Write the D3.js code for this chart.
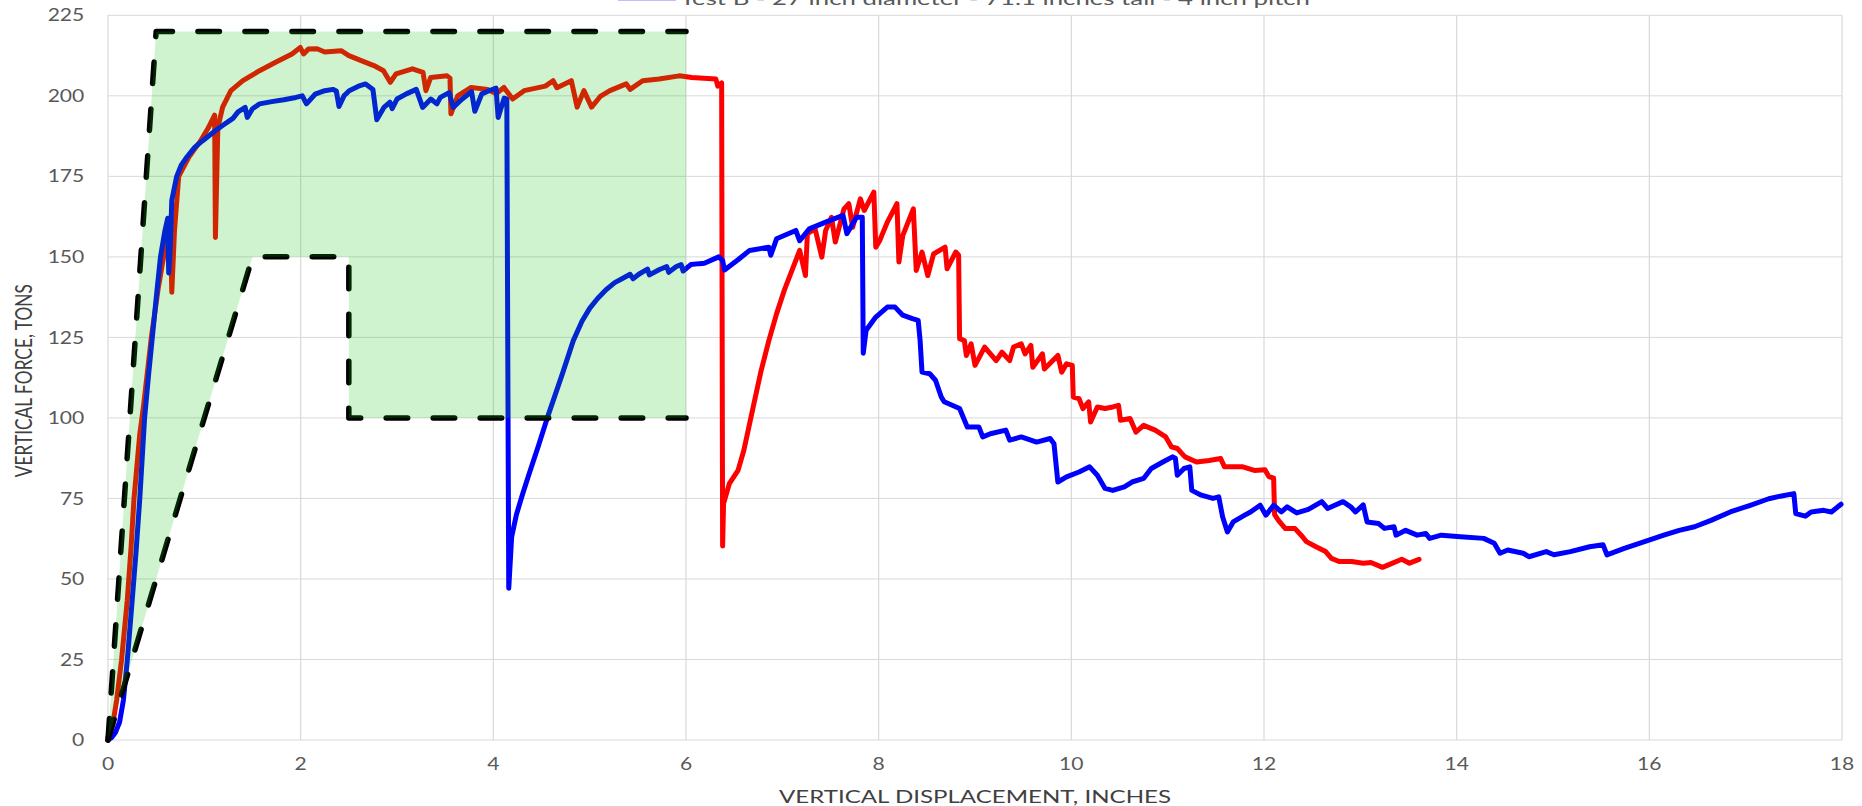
<!DOCTYPE html>
<html>
<head>
<meta charset="utf-8">
<script src="https://cdn.jsdelivr.net/npm/d3@7"></script>
<style>
  html, body { margin: 0; padding: 0; background: #fff; overflow: hidden; }
  svg { display: block; }
  text { font-family: Lato, "Open Sans", "Noto Sans", sans-serif; }
</style>
</head>
<body>
<svg id="chart" width="1862" height="806"></svg>
<script>
// Tick values
const xTicks = [0, 2, 4, 6, 8, 10, 12, 14, 16, 18];
const yTicks = [0, 25, 50, 75, 100, 125, 150, 175, 200, 225];

// Test A (red): displacement (in) and force (tons)
const testA = [
  [0,1],[0.05,5],[0.09,12.4],[0.14,24.7],[0.2,43.4],[0.24,60],[0.27,75],[0.33,95],[0.37,104],
  [0.45,125],[0.52,140],[0.577,150],[0.62,157],[0.65,160],[0.662,139],[0.69,158],
  [0.734,175],[0.84,181],[0.96,186],[1.04,190],[1.107,194],[1.115,156],[1.14,190],[1.19,196.5],
  [1.276,201.6],[1.4,204.7],[1.573,207.8],[1.74,210.4],[1.91,213],[1.996,215],[2.03,213],[2.08,214.5],
  [2.17,214.6],[2.25,213.6],[2.42,214],[2.5,212.5],[2.674,210.4],[2.76,209.4],[2.86,207.8],[2.93,204.2],
  [2.99,206.8],[3.16,208.4],[3.27,207.3],[3.3,201.6],[3.35,205.7],[3.52,206.2],[3.55,205.5],[3.56,194.4],
  [3.63,200],[3.77,202.6],[3.94,202],[4.03,200.6],[4.11,202.6],[4.2,199],[4.32,201.6],[4.54,203],
  [4.62,204.7],[4.66,202.5],[4.81,204.7],[4.87,196.5],[4.94,201.6],[5.02,196.5],[5.11,199.8],[5.21,201.6],
  [5.38,203.7],[5.42,202],[5.55,204.7],[5.72,205.2],[5.93,206.2],[6.06,205.7],[6.31,205.2],[6.33,203],
  [6.37,204],[6.38,60.2],[6.39,73.4],[6.45,79.6],[6.54,83.7],[6.6,89.9],[6.66,98.2],[6.72,106.5],
  [6.78,114.7],[6.86,124],[6.94,132.3],[7.02,139.6],[7.1,145.8],[7.18,152],[7.24,144.2],[7.26,157.2],
  [7.34,158.7],[7.41,149.9],[7.45,158.2],[7.51,162.3],[7.55,154.6],[7.64,164.9],[7.69,166.5],[7.73,159.2],
  [7.81,168],[7.85,164.4],[7.95,170.1],[7.97,153],[8.01,155],[8.09,160.8],[8.19,166.5],[8.21,148.4],
  [8.25,156.6],[8.36,164.9],[8.39,145.8],[8.45,151.5],[8.51,144.2],[8.57,150.9],[8.69,153],[8.71,146.3],
  [8.8,151.5],[8.83,150.5],[8.84,124.6],[8.89,124],[8.91,119.4],[8.96,123],[9.0,116.3],[9.1,122],
  [9.16,119.9],[9.22,117.8],[9.28,120.4],[9.36,117.8],[9.4,122],[9.48,123],[9.52,119.9],[9.58,122.5],
  [9.6,115.7],[9.7,119.9],[9.72,115.2],[9.86,119.4],[9.9,114.2],[9.95,116.8],[10.01,116.3],[10.02,106.5],
  [10.08,106],[10.12,102.9],[10.18,105],[10.2,98.7],[10.27,103.4],[10.35,102.9],[10.43,103.4],[10.49,103.9],
  [10.51,99.3],[10.61,99.8],[10.67,95.6],[10.75,97.7],[10.87,96.2],[10.98,94.1],[11.04,91],[11.1,90.5],
  [11.18,87.9],[11.3,86.3],[11.43,86.8],[11.55,87.4],[11.59,84.8],[11.78,84.8],[11.9,83.7],[12.01,83.9],
  [12.05,81.8],[12.1,81.3],[12.11,70],[12.15,68.2],[12.22,65.7],[12.32,65.7],[12.4,63.1],[12.44,61.6],
  [12.54,60],[12.64,58.5],[12.7,56.4],[12.78,55.4],[12.91,55.4],[13.03,54.9],[13.11,55.1],[13.23,53.6],
  [13.31,54.6],[13.43,56.1],[13.51,54.9],[13.61,56.1]
];

// Test B (blue): displacement (in) and force (tons)
const testB = [
  [0,0],[0.04,0.8],[0.08,2.5],[0.12,5.5],[0.16,12.4],[0.2,24.7],[0.25,43],[0.29,58],[0.33,75],[0.38,100],
  [0.42,113],[0.46,125],[0.51,140],[0.545,150],[0.59,158],[0.62,162],[0.63,145],[0.645,152],[0.662,167.5],
  [0.713,175],[0.76,178.5],[0.819,181],[0.9,184],[0.98,186],[1.107,189],[1.2,191],[1.297,193],[1.35,195],
  [1.424,196.4],[1.446,193.3],[1.5,196],[1.573,197.5],[1.7,198.2],[1.826,198.8],[1.95,199.5],[2.017,200],
  [2.06,197.5],[2.15,200.5],[2.25,201.6],[2.335,202],[2.37,201.5],[2.398,196.7],[2.45,200],[2.504,201.6],
  [2.6,203],[2.674,203.7],[2.75,202],[2.79,192.6],[2.864,196.4],[2.927,198],[2.95,196],[3.0,199],
  [3.097,200.6],[3.2,202],[3.266,196.4],[3.351,199],[3.414,197.5],[3.45,199.5],[3.541,201],[3.584,196.4],
  [3.668,198.8],[3.774,201.3],[3.808,195.2],[3.88,200.6],[3.95,201.5],[4.028,202.4],[4.05,193.3],
  [4.113,199.3],[4.14,199],[4.15,120],[4.16,47.1],[4.19,63],[4.24,70],[4.3,76],[4.37,82.5],[4.47,91.5],
  [4.56,100],[4.64,107],[4.72,114],[4.83,124],[4.92,130],[5.0,134],[5.08,137],[5.17,139.8],[5.26,142],
  [5.34,143.3],[5.42,144.6],[5.45,143.2],[5.51,144.6],[5.6,146.2],[5.62,144.4],[5.72,146],[5.8,147],
  [5.82,145.2],[5.9,147],[5.95,147.6],[5.97,145.6],[6.05,147.6],[6.14,147.9],[6.19,148],[6.34,150],
  [6.38,148.9],[6.4,145.9],[6.54,149.1],[6.66,152],
  [6.86,153],[6.88,150.5],[6.94,155.6],[7.14,158.2],[7.18,155],[7.28,158.7],[7.45,160.8],[7.63,162.9],
  [7.67,157.2],[7.77,162.3],[7.83,162.3],[7.84,120.1],[7.87,127.2],[7.97,131.3],[8.09,134.4],[8.17,134.4],
  [8.25,131.9],[8.35,130.8],[8.41,130.3],[8.43,124.1],[8.45,114.2],[8.53,113.7],[8.59,111.7],[8.65,106.5],
  [8.68,105],[8.84,102.9],[8.92,97.2],[9.04,97.2],[9.08,94.1],[9.16,95.1],[9.32,96.2],[9.36,93.1],
  [9.48,94.1],[9.64,92.5],[9.78,93.6],[9.82,92],[9.86,80.1],[9.95,81.7],[10.08,83.2],[10.19,84.8],
  [10.27,82.2],[10.35,78.1],[10.43,77.5],[10.55,78.6],[10.63,80.1],[10.75,81.2],[10.83,84.3],[10.95,86.3],
  [11.05,87.9],[11.08,87.5],[11.1,82.2],[11.17,84.3],[11.23,84.8],[11.25,77.5],[11.35,76],[11.47,75],
  [11.53,75.5],[11.57,69.3],[11.62,64.6],[11.68,67.7],[11.8,69.8],[11.86,70.8],[11.96,72.9],[12.02,69.8],
  [12.1,72.9],[12.18,70.8],[12.24,72.4],[12.34,70.5],[12.46,71.6],[12.6,74],[12.66,71.9],[12.82,74],
  [12.9,72.4],[12.95,70.8],[13.03,73],[13.07,67.7],[13.19,67.2],[13.25,65.7],[13.35,66.2],[13.37,63.6],
  [13.47,65.1],[13.59,63.6],[13.68,64.1],[13.72,62.6],[13.84,63.6],[14.04,63.1],[14.28,62.6],[14.39,61.1],
  [14.45,58],[14.53,59],[14.69,58],[14.75,56.9],[14.93,58.5],[15.01,57.5],[15.18,58.5],[15.38,60],
  [15.52,60.6],[15.56,57.5],[15.74,59.5],[15.95,61.6],[16.15,63.6],[16.31,65.1],[16.47,66.2],[16.64,68.2],
  [16.84,70.8],[17.04,72.8],[17.24,74.9],[17.36,75.7],[17.5,76.5],[17.52,70.3],[17.62,69.5],[17.68,70.8],
  [17.81,71.3],[17.89,70.8],[17.99,73.2]
];

// Acceptance envelope: outer and inner dashed limits, and the shaded zone between them
const envelopeOuter = [[0,0],[0.5,220],[6,220]];
const envelopeInner = [[0,0],[1.5,150],[2.5,150],[2.5,100],[6,100]];
const envelopeZone  = [[0,0],[0.5,220],[6,220],[6,100],[2.5,100],[2.5,150],[1.5,150],[0,0]];

const legendLabel = "Test B - 27 inch diameter - 71.1 inches tall - 4 inch pitch";
const xTitle = "VERTICAL DISPLACEMENT, INCHES";
const yTitle = "VERTICAL FORCE, TONS";

// ---- layout ----
const M = { left: 108, right: 1842, top: 15.3, bottom: 740 };
const TEXT_STRETCH = 1.24;   // glyphs in this figure are drawn horizontally widened

const svg = d3.select("#chart");
const x = d3.scaleLinear().domain([0, 18]).range([M.left, M.right]);
const y = d3.scaleLinear().domain([0, 225]).range([M.bottom, M.top]);

// gridlines
const grid = svg.append("g").attr("stroke", "#d9d9d9").attr("stroke-width", 1);
grid.selectAll(".gy").data(yTicks).join("line")
  .attr("x1", M.left).attr("x2", M.right)
  .attr("y1", d => y(d)).attr("y2", d => y(d));
grid.selectAll(".gx").data(xTicks).join("line")
  .attr("y1", M.top).attr("y2", M.bottom)
  .attr("x1", d => x(d)).attr("x2", d => x(d))
  .attr("stroke-width", 1.2);

// tick labels
svg.append("g").selectAll("text").data(yTicks).join("text")
  .attr("transform", d => `translate(84.3,${y(d)}) scale(${TEXT_STRETCH},1)`)
  .attr("dy", "0.36em")
  .attr("text-anchor", "end")
  .attr("font-size", 17).attr("fill", "#595959")
  .text(d => d);

svg.append("g").selectAll("text").data(xTicks).join("text")
  .attr("transform", d => `translate(${x(d)},770) scale(${TEXT_STRETCH},1)`)
  .attr("text-anchor", "middle")
  .attr("font-size", 17).attr("fill", "#595959")
  .text(d => d);

// axis titles
svg.append("text")
  .attr("transform", `translate(${(M.left + M.right) / 2},803) scale(${TEXT_STRETCH},1)`)
  .attr("text-anchor", "middle")
  .attr("font-size", 18).attr("fill", "#404040")
  .attr("textLength", 392 / TEXT_STRETCH).attr("lengthAdjust", "spacingAndGlyphs")
  .text(xTitle);

svg.append("text")
  .attr("transform", `translate(32,${(M.top + M.bottom) / 2 + 3}) scale(${TEXT_STRETCH},1) rotate(-90)`)
  .attr("text-anchor", "middle")
  .attr("font-size", 18).attr("fill", "#404040")
  .attr("textLength", 193).attr("lengthAdjust", "spacingAndGlyphs")
  .text(yTitle);

// data lines
const line = d3.line().x(d => x(d[0])).y(d => y(d[1]));
const lines = svg.append("g").attr("fill", "none")
  .attr("stroke-width", 5).attr("stroke-linejoin", "round").attr("stroke-linecap", "round");
lines.append("path").datum(testA).attr("stroke", "#ff0000").attr("d", line);
lines.append("path").datum(testB).attr("stroke", "#0000ff").attr("d", line);

// envelope limits (dashed)
const dash = svg.append("g").attr("fill", "none").attr("stroke", "#000")
  .attr("stroke-width", 5.5).attr("stroke-linecap", "round").attr("stroke-linejoin", "round")
  .attr("stroke-dasharray", "21.5,25.5");
dash.append("path").datum(envelopeOuter).attr("d", line);
dash.append("path").datum(envelopeInner).attr("d", line);

// translucent shaded zone laid over everything beneath it
svg.append("path").datum(envelopeZone)
  .attr("d", line)
  .attr("fill", "rgb(10,195,10)").attr("fill-opacity", 0.2).attr("stroke", "none");

// legend (sits at the very top edge)
svg.append("line")
  .attr("x1", 618).attr("x2", 676).attr("y1", -2).attr("y2", -2)
  .attr("stroke", "#0000ff").attr("stroke-width", 4.5);
svg.append("text")
  .attr("transform", `translate(680,4.5) scale(${TEXT_STRETCH},1)`)
  .attr("font-size", 17).attr("fill", "#595959")
  .attr("textLength", 630 / TEXT_STRETCH).attr("lengthAdjust", "spacingAndGlyphs")
  .text(legendLabel);
</script>
</body>
</html>
